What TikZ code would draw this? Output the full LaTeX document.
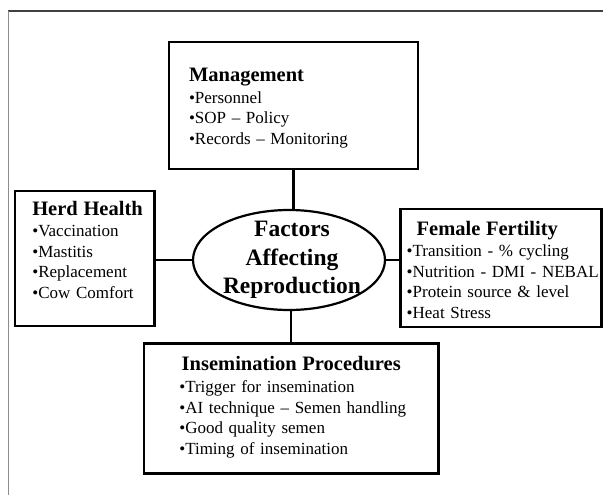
\documentclass[tikz,border=0pt]{standalone}
\usepackage{fontspec}
\setmainfont{Liberation Serif}
\usepackage{xcolor}
\usetikzlibrary{positioning, shapes.geometric, calc}
\newcommand\headfont{\fontsize{20.5}{24}\selectfont\bfseries}
\newcommand\bodyfont{\fontsize{17}{20.5}\selectfont}
\tikzset{
  panel/.style  ={rectangle, draw=black, line width=2.6pt, outer sep=0pt,
                  inner ysep=0pt, align=left, font=\bodyfont, text=black,
                  % let long lines run on instead of wrapping
                  execute at begin node={\rightskip=0pt plus 1fil minus 200pt\relax}},
  hub/.style    ={ellipse, draw=black, line width=2.2pt, minimum width=192pt,
                  minimum height=100pt, inner sep=0pt},
  hubtext/.style={align=center, inner sep=0pt, text=black,
                  font=\fontsize{23.5}{28.5}\selectfont\bfseries},
  link/.style   ={line width=2.4pt, black}
}

\begin{document}
\begin{tikzpicture}[
  x=1pt, y=-1pt,
  frame/.style={line width=1.5pt}
]
\useasboundingbox (0,0) rectangle (603,495);
\draw[frame, black!75] (8,11) -- (603,11);
\draw[frame, black!45] (8.5,11) -- (8.5,495);

\node[hub] (hub) at (289,260) {};
\node[hubtext] (hubtxt) at ([xshift=3pt]hub.center)
      {Factors\\Affecting\\Reproduction};

\node[panel, text width=209pt, inner xsep=20pt,
      text height=39.7pt, text depth=87.3pt] (mgmt) at (293.5,105.5)
      {{\headfont Management}\\[1pt]
       •Personnel\\
       •SOP – Policy\\
       •Records – Monitoring};
\node[panel, text width=104.9pt, inner xsep=17.3pt,
      text height=24pt, text depth=111pt] (herd) at (84.75,258.5)
      {{\headfont Herd Health}\\[1pt]
       •Vaccination\\
       •Mastitis\\
       •Replacement\\
       •Cow Comfort};
\node[panel, text width=189pt, inner xsep=6pt,
      text height=26pt, text depth=92pt] (fert) at (501.2,268)
      {\hspace*{10pt}{\headfont Female Fertility}\\[1pt]
       •Transition - \% cycling\\
       •Nutrition - DMI - NEBAL\\
       •Protein source \& level\\
       •Heat Stress};
\node[panel, text width=223.9pt, inner xsep=35.3pt,
      text height=27.4pt, text depth=102.6pt] (insem) at (291.25,408.3)
      {\makebox[\hsize]{\headfont Insemination Procedures}\\[1.5pt]
       •Trigger for insemination\\
       •AI technique – Semen handling\\
       •Good quality semen\\
       •Timing of insemination};

\draw[link] (mgmt.south) -- (mgmt.south |- hub.north);
\draw[link] (insem.north) -- (insem.north |- hub.south);
\draw[link] (herd.east |- hub.center) -- (hub.west);
\draw[link] (fert.west |- hub.center) -- (hub.east);

\end{tikzpicture}
\end{document}
